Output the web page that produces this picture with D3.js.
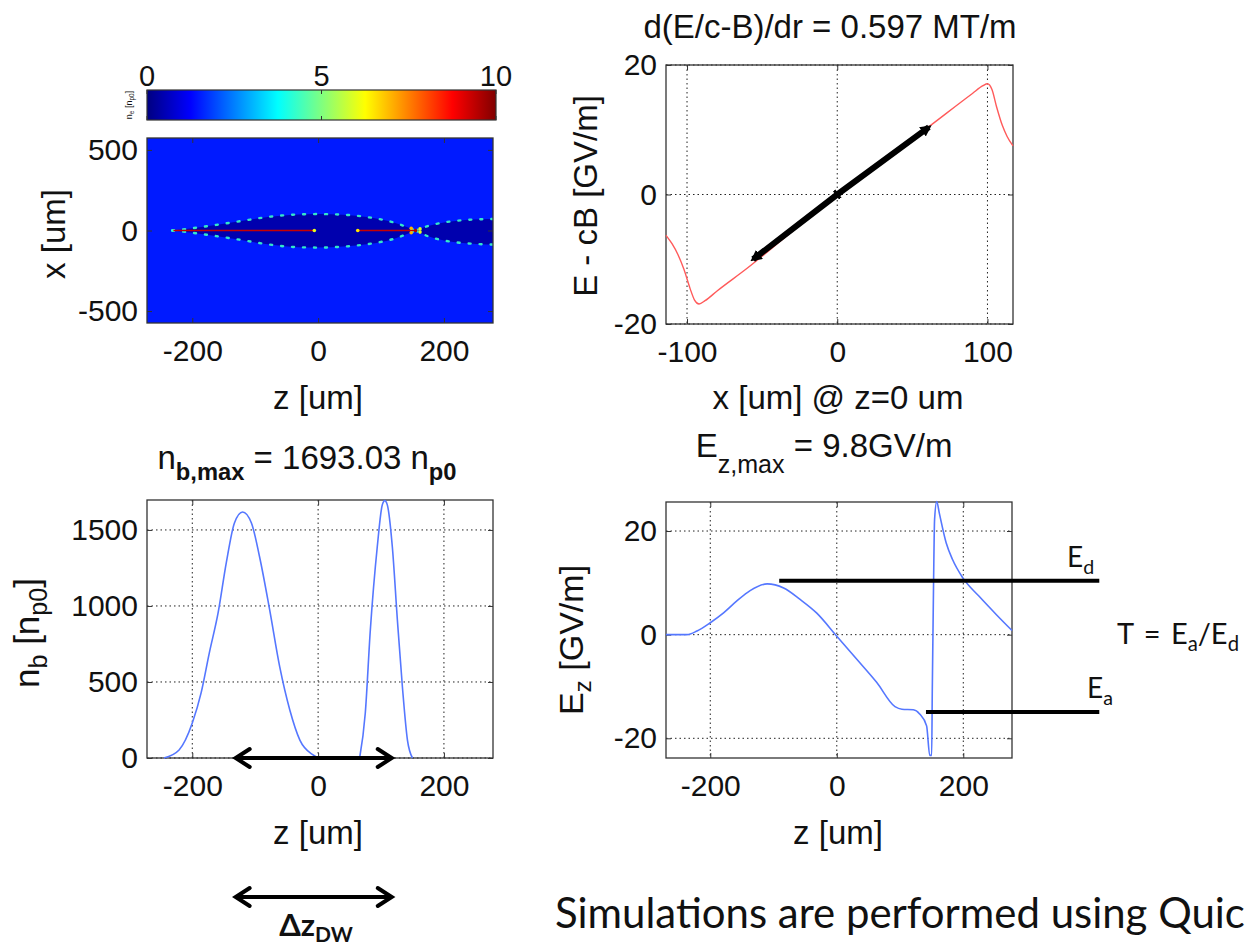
<!DOCTYPE html>
<html>
<head>
<meta charset="utf-8">
<script src="https://cdn.jsdelivr.net/npm/d3@7"></script>
<style>
  body { margin: 0; background: #fff; }
  svg { display: block; }
  text { font-family: "Liberation Sans", Arial, sans-serif; fill: #111; }
  .cal { font-family: Lato, "Open Sans", sans-serif; }
</style>
</head>
<body>
<div id="chart"></div>
<script>
// ---------- values ----------

// colour bar (n_e in n_p0)
const cbTicks = [0, 5, 10];

// density map, z and x in um
const zTicks = [-200, 0, 200];
const xMapTicks = [-500, 0, 500];
const bgDensity = 1.5;
const cavityDensity = 0.45;
const sheathDensity = 4.3;
const bubble1Z   = [-232, -200, -160, -120, -80, -40, 0, 40, 80, 120, 155];
const bubble1Top = [0, 14, 36, 60, 84, 98, 102, 98, 82, 50, 0];
const bubble1Bot = [0, -14, -36, -60, -86, -102, -106, -100, -84, -52, 0];
const bubble2Z   = [155, 175, 200, 230, 260, 285];
const bubble2Top = [0, 28, 50, 64, 70, 72];
const bubble2Bot = [0, -36, -62, -78, -85, -88];
const beamZ = [[-230, -6], [63, 153]];
const beamDensity = 9.3;
const hotZ = [-6, 63, 148, 155, 162, 148, 162];
const hotX = [0, 0, 14, 0, 10, -14, -10];
const hotV = [6, 6.5, 7, 9.5, 6, 7, 6];

// E - cB vs x at z = 0
const xTicks = [-100, 0, 100];
const ecbTicks = [-20, 0, 20];
const rX = [-114, -110, -106, -102, -98, -95, -92, -88, -80, -60, -30, 0, 30, 60, 90, 97, 100, 103, 106, 110, 113, 117];
const rE = [-6.3, -7.6, -9.3, -11.6, -14.5, -16.3, -16.9, -16.4, -14.9, -11.4, -5.7, -0.2, 5.1, 10.3, 15.6, 16.8, 17.1, 16.2, 13.6, 10.6, 9.0, 7.5];
const slopeX = [-56, 0, 61];
const slopeE = [-10.0, 0, 10.4];

// beam density n_b vs z
const nbTicks = [0, 500, 1000, 1500];
const driveZ = [-245, -221, -200, -186, -173, -159, -146, -133, -120, -106, -93, -77, -61, -45, -29, -8, 0];
const driveN = [0, 53, 230, 428, 690, 954, 1283, 1546, 1618, 1546, 1322, 974, 599, 316, 118, 20, 0];
const witZ = [66, 75, 83, 94, 102, 106, 110, 118, 126, 134, 142, 150];
const witN = [0, 296, 842, 1388, 1665, 1693, 1665, 1388, 908, 467, 118, 0];
const dzDW = [-131, 117];

// E_z vs z
const ezTicks = [-20, 0, 20];
const ezZ = [-270, -237, -221, -200, -179, -158, -137, -110, -84, -58, -32, 0, 32, 63, 92, 103, 121, 131, 142, 147, 150, 151, 153, 154.6, 158, 162, 173, 183, 199, 225, 252, 277];
const ezV = [0, 0, 0.7, 2.3, 4.2, 6.5, 8.5, 9.8, 9.0, 6.8, 4.2, -0.3, -4.8, -9.2, -13.9, -14.4, -14.5, -15.3, -17.6, -23.3, -23.3, -10.5, 10, 22.2, 25.7, 23.5, 17.7, 14.5, 11, 7.4, 3.9, 0.8];
const edLevel = 10.4, edZ = [-91, 415];
const eaLevel = -14.9, eaZ = [141, 415];

// ---------- drawing ----------
const W = 1247, H = 951;
const svg = d3.select("#chart").append("svg").attr("width", W).attr("height", H);
svg.append("rect").attr("width", W).attr("height", H).attr("fill", "#fff");
const defs = svg.append("defs");

const jet = d3.scaleLinear()
  .domain([0, 1.25, 3.75, 6.25, 8.75, 10])
  .range(["#000080", "#0000ff", "#00ffff", "#ffff00", "#ff0000", "#800000"])
  .clamp(true);

const tickFont = 30;
const labFont = 33;

// generic boxed axes, MATLAB style (ticks inside)
function boxAxes(g, x, y, xt, yt, grid) {
  const [x0, x1] = x.range(), [y0, y1] = y.range(); // y0 bottom
  if (grid) {
    g.append("g").selectAll("line").data(xt).join("line")
      .attr("x1", d => x(d)).attr("x2", d => x(d)).attr("y1", y1).attr("y2", y0)
      .attr("stroke", "#222").attr("stroke-width", 1).attr("stroke-dasharray", "1.5,3");
    g.append("g").selectAll("line").data(yt).join("line")
      .attr("y1", d => y(d)).attr("y2", d => y(d)).attr("x1", x0).attr("x2", x1)
      .attr("stroke", "#222").attr("stroke-width", 1).attr("stroke-dasharray", "1.5,3");
  }
  const ax = (a) => a.call(s => s.select(".domain").remove())
    .call(s => s.selectAll("line").attr("stroke", "#333"));
  const fmt = d => String(d);
  g.append("g").attr("transform", `translate(0,${y0})`)
    .call(d3.axisBottom(x).tickValues(xt).tickSize(-5).tickPadding(17).tickFormat(fmt))
    .call(ax).selectAll("text").attr("font-size", tickFont).attr("font-family", "Liberation Sans, Arial").attr("fill", "#111");
  g.append("g").attr("transform", `translate(0,${y1})`)
    .call(d3.axisTop(x).tickValues(xt).tickSize(-5).tickFormat("")).call(ax);
  g.append("g").attr("transform", `translate(${x0},0)`)
    .call(d3.axisLeft(y).tickValues(yt).tickSize(-5).tickPadding(9).tickFormat(fmt))
    .call(ax).selectAll("text").attr("font-size", tickFont).attr("font-family", "Liberation Sans, Arial").attr("fill", "#111");
  g.append("g").attr("transform", `translate(${x1},0)`)
    .call(d3.axisRight(y).tickValues(yt).tickSize(-5).tickFormat("")).call(ax);
  g.append("rect").attr("x", x0).attr("y", y1).attr("width", x1 - x0).attr("height", y0 - y1)
    .attr("fill", "none").attr("stroke", "#333").attr("stroke-width", 1.3);
}

// text with subscripts; parts: strings or {sub: "..."}
function label(g, x, y, parts, size, opt = {}) {
  const t = g.append("text").attr("text-anchor", opt.anchor || "middle").attr("font-size", size)
    .attr("transform", `translate(${x},${y})` + (opt.rotate ? " rotate(-90)" : ""));
  const drop = opt.drop != null ? opt.drop : Math.round(size * 0.3);
  let shift = 0;
  parts.forEach(p => {
    const sub = typeof p !== "string";
    const s = t.append("tspan").text(sub ? p.sub : p);
    const want = sub ? drop : 0;
    s.attr("dy", want - shift);
    shift = want;
    if (sub) s.attr("font-size", size * (opt.subScale || 0.72)).attr("font-weight", opt.subWeight || "normal");
  });
  return t;
}

// ---- panel A: density map ----
const xA = d3.scaleLinear().domain([-272, 278]).range([147, 493]);
const yA = d3.scaleLinear().domain([-574, 574]).range([323, 138]);
const gA = svg.append("g");
defs.append("clipPath").attr("id", "clipA").append("rect")
  .attr("x", 147).attr("y", 138).attr("width", 346).attr("height", 185);
const mapG = gA.append("g").attr("clip-path", "url(#clipA)");
mapG.append("rect").attr("x", 147).attr("y", 138).attr("width", 346).attr("height", 185).attr("fill", jet(bgDensity));

function bubble(zs, top, bot) {
  const pts = zs.map((z, i) => ({ z, t: top[i], b: bot[i] }));
  mapG.append("path").datum(pts)
    .attr("d", d3.area().x(d => xA(d.z)).y0(d => yA(d.b)).y1(d => yA(d.t)).curve(d3.curveMonotoneX))
    .attr("fill", jet(cavityDensity));
  [top, bot].forEach(edge => {
    mapG.append("path").datum(zs.map((z, i) => [z, edge[i]]))
      .attr("d", d3.line().x(d => xA(d[0])).y(d => yA(d[1])).curve(d3.curveMonotoneX))
      .attr("fill", "none").attr("stroke", jet(sheathDensity)).attr("stroke-width", 2.4)
      .attr("stroke-linecap", "round").attr("stroke-dasharray", "2,9").attr("opacity", 0.9);
  });
}
bubble(bubble1Z, bubble1Top, bubble1Bot);
bubble(bubble2Z, bubble2Top, bubble2Bot);
mapG.selectAll(".beam").data(beamZ).join("line")
  .attr("x1", d => xA(d[0])).attr("x2", d => xA(d[1])).attr("y1", yA(0)).attr("y2", yA(0))
  .attr("stroke", jet(beamDensity)).attr("stroke-width", 1.5);
mapG.selectAll(".hot").data(hotZ).join("circle")
  .attr("cx", d => xA(d)).attr("cy", (d, i) => yA(hotX[i])).attr("r", 1.8)
  .attr("fill", (d, i) => jet(hotV[i]));
boxAxes(gA, xA, yA, zTicks, xMapTicks, false);
label(gA, 318, 409, ["z [um]"], labFont);
label(gA, 65, 234, ["x [um]"], labFont, { rotate: true });

// colour bar
const xCb = d3.scaleLinear().domain([0, 10]).range([147, 496]);
const grad = defs.append("linearGradient").attr("id", "jetGrad");
grad.selectAll("stop").data(jet.domain()).join("stop")
  .attr("offset", d => d / 10).attr("stop-color", d => jet(d));
svg.append("rect").attr("x", 147).attr("y", 90).attr("width", 349).attr("height", 30)
  .attr("fill", "url(#jetGrad)").attr("stroke", "#333").attr("stroke-width", 1.2);
svg.append("g").selectAll("line").data(cbTicks).join("line")
  .attr("x1", d => xCb(d)).attr("x2", d => xCb(d)).attr("y1", 90).attr("y2", 94).attr("stroke", "#333");
svg.append("g").selectAll("line").data(cbTicks).join("line")
  .attr("x1", d => xCb(d)).attr("x2", d => xCb(d)).attr("y1", 116).attr("y2", 120).attr("stroke", "#333");
svg.append("g").selectAll("text").data(cbTicks).join("text")
  .attr("x", d => xCb(d)).attr("y", 86).attr("text-anchor", "middle").attr("font-size", 29).text(d => d);
label(svg, 132, 105, ["n", { sub: "e" }, " [n", { sub: "p0" }, "]"], 9, { rotate: true, drop: 2 });

// ---- panel B: E - cB ----
const xB = d3.scaleLinear().domain([-114, 117]).range([666, 1013]);
const yB = d3.scaleLinear().domain([-20, 20]).range([324, 65]);
const gB = svg.append("g");
boxAxes(gB, xB, yB, xTicks, ecbTicks, true);
gB.append("path").datum(rX.map((x, i) => [x, rE[i]]))
  .attr("d", d3.line().x(d => xB(d[0])).y(d => yB(d[1])).curve(d3.curveMonotoneX))
  .attr("fill", "none").attr("stroke", "#ff5a5a").attr("stroke-width", 1.4);
defs.append("marker").attr("id", "tri").attr("viewBox", "0 0 10 10").attr("refX", 7).attr("refY", 5)
  .attr("markerWidth", 1.9).attr("markerHeight", 1.9).attr("orient", "auto-start-reverse")
  .append("path").attr("d", "M0,0L10,5L0,10Z").attr("fill", "#000");
defs.append("marker").attr("id", "bar").attr("viewBox", "0 0 10 10").attr("refX", 5).attr("refY", 5)
  .attr("markerWidth", 1.7).attr("markerHeight", 1.7).attr("orient", "auto")
  .append("path").attr("d", "M5,0L5,10").attr("stroke", "#000").attr("stroke-width", 3);
gB.append("path").datum(slopeX.map((x, i) => [x, slopeE[i]]))
  .attr("d", d3.line().x(d => xB(d[0])).y(d => yB(d[1])))
  .attr("fill", "none").attr("stroke", "#000").attr("stroke-width", 6)
  .attr("marker-start", "url(#tri)").attr("marker-end", "url(#tri)").attr("marker-mid", "url(#bar)");
label(gB, 830, 38, ["d(E/c-B)/dr = 0.597 MT/m"], labFont);
label(gB, 838, 409, ["x [um] @ z=0 um"], labFont);
label(gB, 597, 196, ["E - cB [GV/m]"], labFont, { rotate: true });

// ---- panel C: n_b ----
const xC = d3.scaleLinear().domain([-272, 278]).range([147, 493]);
const yC = d3.scaleLinear().domain([0, 1697]).range([758, 500]);
const gC = svg.append("g");
boxAxes(gC, xC, yC, zTicks, nbTicks, true);
[[driveZ, driveN], [witZ, witN]].forEach(([zs, ns]) => {
  gC.append("path").datum(zs.map((z, i) => [z, ns[i]]))
    .attr("d", d3.line().x(d => xC(d[0])).y(d => yC(d[1])).curve(d3.curveMonotoneX))
    .attr("fill", "none").attr("stroke", "#5577ff").attr("stroke-width", 1.6);
});
function dblArrow(g, xa, xb, y) {
  g.append("line").attr("x1", xa + 2).attr("x2", xb - 2).attr("y1", y).attr("y2", y)
    .attr("stroke", "#000").attr("stroke-width", 4);
  [[xa, 1], [xb, -1]].forEach(([x, s]) => {
    g.append("path").attr("d", `M${x + s * 14},${y - 9}L${x},${y}L${x + s * 14},${y + 9}`)
      .attr("fill", "none").attr("stroke", "#000").attr("stroke-width", 4)
      .attr("stroke-linecap", "round").attr("stroke-linejoin", "miter");
  });
}
dblArrow(gC, xC(dzDW[0]), xC(dzDW[1]), yC(0));
label(gC, 307, 469, ["n", { sub: "b,max" }, " = 1693.03 n", { sub: "p0" }], labFont, { subWeight: "bold", drop: 11 });
label(gC, 318, 844, ["z [um]"], labFont);
label(gC, 39, 633, ["n", { sub: "b" }, " [n", { sub: "p0" }, "]"], 35, { rotate: true, drop: 8 });
dblArrow(svg, xC(dzDW[0]), xC(dzDW[1]), 897);
const dz = svg.append("text").attr("class", "cal").attr("x", 316).attr("y", 936)
  .attr("text-anchor", "middle").attr("font-size", 31).attr("font-weight", "bold");
dz.append("tspan").text("Δz");
dz.append("tspan").text("DW").attr("font-size", 21).attr("dy", 6);

// ---- panel D: E_z ----
const xD = d3.scaleLinear().domain([-270, 277]).range([666, 1012]);
const yD = d3.scaleLinear().domain([-23.8, 25.6]).range([758, 502]);
const gD = svg.append("g");
boxAxes(gD, xD, yD, zTicks, ezTicks, true);
gD.append("path").datum(ezZ.map((z, i) => [z, ezV[i]]))
  .attr("d", d3.line().x(d => xD(d[0])).y(d => yD(d[1])).curve(d3.curveMonotoneX))
  .attr("fill", "none").attr("stroke", "#5577ff").attr("stroke-width", 1.6);
[[edZ, edLevel], [eaZ, eaLevel]].forEach(([zs, v]) => {
  svg.append("line").attr("x1", xD(zs[0])).attr("x2", Math.min(xD(zs[1]), 1102))
    .attr("y1", yD(v)).attr("y2", yD(v)).attr("stroke", "#000").attr("stroke-width", 4);
});
label(gD, 824, 457, ["E", { sub: "z,max" }, "  = 9.8GV/m"], labFont, { drop: 16, subScale: 0.76 });
label(gD, 838, 844, ["z [um]"], labFont);
label(gD, 583, 640, ["E", { sub: "z" }, " [GV/m]"], 34, { rotate: true, drop: 8 });

function calText(x, y, parts, size) {
  const t = svg.append("text").attr("class", "cal").attr("x", x).attr("y", y).attr("font-size", size);
  let shift = 0;
  parts.forEach(p => {
    const sub = typeof p !== "string";
    const s = t.append("tspan").text(sub ? p.sub : p);
    const want = sub ? 7 : 0;
    s.attr("dy", want - shift);
    shift = want;
    if (sub) s.attr("font-size", size * 0.7);
  });
  return t;
}
calText(1067, 567, ["E", { sub: "d" }], 28);
calText(1087, 698, ["E", { sub: "a" }], 28);
const tq = calText(1117, 644, ["T = E", { sub: "a" }, "/E", { sub: "d" }], 29);
tq.attr("word-spacing", 3);

const sim = svg.append("text").attr("class", "cal").attr("x", 555).attr("y", 928)
  .attr("font-size", 40).text("Simulations are performed using Quic");
const len = sim.node().getComputedTextLength();
sim.attr("font-size", 40 * 690 / len);
</script>
</body>
</html>
